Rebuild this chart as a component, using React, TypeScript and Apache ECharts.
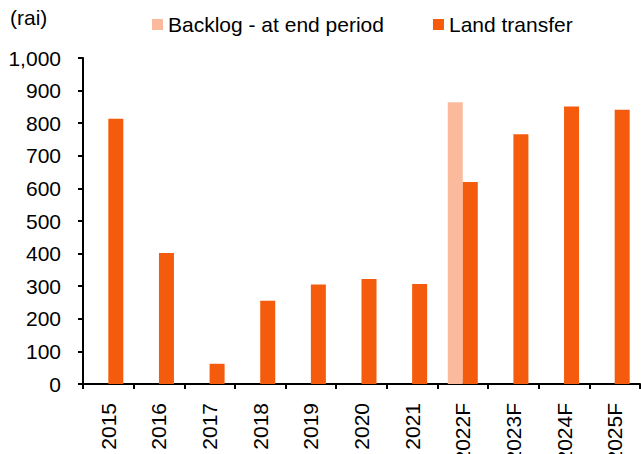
import React, { useEffect, useRef } from "react";
import * as echarts from "echarts";

const categories = ["2015", "2016", "2017", "2018", "2019", "2020", "2021", "2022F", "2023F", "2024F", "2025F"];
const backlog = [null, null, null, null, null, null, null, 864, null, null, null];
const landTransfer = [814, 402, 62, 255, 305, 322, 307, 620, 766, 851, 841];
const yTicks = { min: 0, max: 1000, interval: 100 };

const FONT = "'Liberation Sans', Arial, sans-serif";
const FS = 21;

export default function App() {
  const ref = useRef<HTMLDivElement>(null);
  useEffect(() => {
    if (!ref.current) return;
    const chart = echarts.init(ref.current, undefined, { renderer: "svg" });
    chart.setOption({
      animation: false,
      textStyle: { fontFamily: FONT },
      graphic: [
        {
          type: "text",
          left: 10,
          top: 7,
          style: { text: "(rai)", font: `${FS}px ${FONT}`, fill: "#000" },
        },
      ],
      legend: {
        left: 147,
        top: 9,
        itemWidth: 11,
        itemHeight: 11,
        itemGap: 49,
        icon: "rect",
        textStyle: { fontSize: FS, color: "#000", fontFamily: FONT },
        data: ["Backlog - at end period", "Land transfer"],
      },
      grid: { left: 83, right: 1, top: 58, bottom: 70, containLabel: false, outerBoundsMode: "none" },
      xAxis: {
        type: "category",
        data: categories,
        axisLine: { lineStyle: { color: "#000", width: 2 } },
        axisTick: { show: true, length: 5, lineStyle: { color: "#000", width: 2 } },
        axisLabel: { rotate: 90, fontSize: FS, color: "#000", margin: 19, fontFamily: FONT },
      },
      yAxis: {
        type: "value",
        min: yTicks.min,
        max: yTicks.max,
        interval: yTicks.interval,
        axisLine: { show: true, lineStyle: { color: "#000", width: 2 } },
        axisTick: { show: true, length: 5, lineStyle: { color: "#000", width: 2 } },
        splitLine: { show: false },
        axisLabel: {
          fontSize: FS,
          color: "#000",
          margin: 22,
          fontFamily: FONT,
          formatter: (v: number) => v.toLocaleString("en-US"),
        },
      },
      series: [
        {
          name: "Backlog - at end period",
          type: "bar",
          data: backlog,
          barWidth: 15,
          barGap: "0%",
          itemStyle: { color: "#FABA9B" },
        },
        {
          name: "Land transfer",
          type: "bar",
          data: landTransfer,
          barWidth: 15,
          barGap: "0%",
          itemStyle: { color: "#F55B0D" },
        },
      ],
    });
    return () => chart.dispose();
  }, []);
  return <div ref={ref} style={{ width: 641, height: 454, position: "absolute", left: 0, top: 0 }} />;
}
